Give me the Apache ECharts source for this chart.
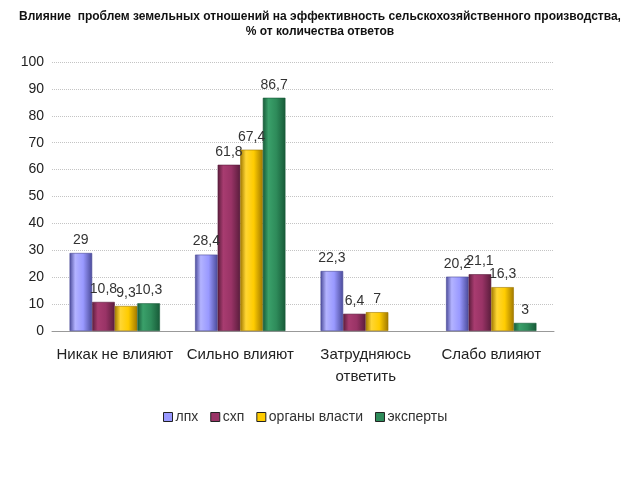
<!DOCTYPE html>
<html><head><meta charset="utf-8">
<script src="https://cdn.jsdelivr.net/npm/echarts@6/dist/echarts.min.js"></script>
<style>html,body{margin:0;padding:0;background:#fff}#c{width:640px;height:480px}</style>
</head><body><div id="c"></div>
<script>
var categories = ['Никак не влияют', 'Сильно влияют', 'Затрудняюсь\nответить', 'Слабо влияют'];
var seriesNames = ['лпх', 'схп', 'органы власти', 'эксперты'];
var lpx = [29, 28.4, 22.3, 20.2];
var sxp = [10.8, 61.8, 6.4, 21.1];
var organy = [9.3, 67.4, 7, 16.3];
var eksperty = [10.3, 86.7, null, 3];
var yTicks = [0, 10, 20, 30, 40, 50, 60, 70, 80, 90, 100];

var baseColors = ['#9999FF', '#993366', '#FFCC00', '#2E8B5A'];
var darkColors = ['#4a4a99', '#5a1d3c', '#a07800', '#175a38'];
var lightColors = ['#b3b3ff', '#a83c70', '#ffd633', '#3aa06a'];
var allData = [lpx, sxp, organy, eksperty];
var FONT = 'Liberation Sans, Arial, sans-serif';

function grad(i) {
  return new echarts.graphic.LinearGradient(0, 0, 1, 0, [
    {offset: 0, color: darkColors[i]},
    {offset: 0.25, color: lightColors[i]},
    {offset: 0.6, color: baseColors[i]},
    {offset: 1, color: darkColors[i]}
  ]);
}

var series = seriesNames.map(function (n, i) {
  return {
    name: n, type: 'bar', data: allData[i],
    barGap: '0%', barCategoryGap: '28%',
    itemStyle: {color: grad(i), borderColor: darkColors[i], borderWidth: 0.6},
    label: {
      show: true, position: 'top', distance: 6, color: '#333', fontSize: 14,
      fontFamily: FONT,
      formatter: function (p) { return String(p.value).replace('.', ','); }
    }
  };
});

var chart = echarts.init(document.getElementById('c'));
chart.setOption({
  animation: false,
  title: {
    text: 'Влияние  проблем земельных отношений на эффективность сельскохозяйственного производства,\n% от количества ответов',
    left: 'center', top: 4,
    textStyle: {fontSize: 12, fontWeight: 'bold', color: '#111', lineHeight: 15, fontFamily: FONT}
  },
  color: baseColors,
  legend: {
    data: seriesNames.map(function (n, i) {
      return {name: n, itemStyle: {color: baseColors[i], borderColor: '#222', borderWidth: 1}};
    }),
    left: 158, top: 405, itemWidth: 9, itemHeight: 9, itemGap: 12, icon: 'rect',
    textStyle: {fontSize: 14, color: '#333', padding: [0, 0, 0, -2], fontFamily: FONT}
  },
  grid: {left: 52, right: 86, top: 62, bottom: 149},
  xAxis: {
    type: 'category', data: categories,
    axisLine: {lineStyle: {color: '#999'}},
    axisTick: {show: false},
    axisLabel: {fontSize: 15, color: '#222', margin: 13, lineHeight: 22, interval: 0, fontFamily: FONT}
  },
  yAxis: {
    type: 'value', min: 0, max: 100, interval: 10,
    axisLine: {show: false}, axisTick: {show: false},
    axisLabel: {fontSize: 14, color: '#222', margin: 8, fontFamily: FONT,
      formatter: function (v) { return yTicks.indexOf(v) >= 0 ? String(v) : ''; }},
    splitLine: {lineStyle: {color: '#c4c4c4', type: 'dotted', width: 1}}
  },
  series: series
});
</script></body></html>
